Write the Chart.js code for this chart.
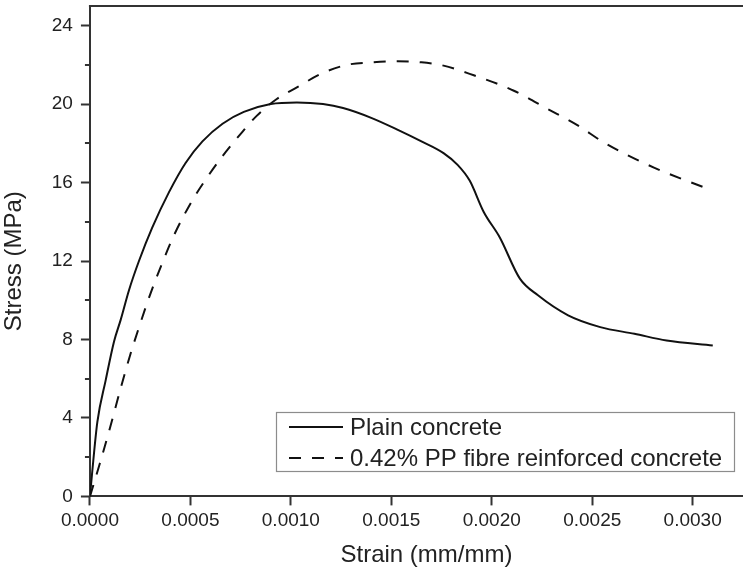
<!DOCTYPE html>
<html>
<head>
<meta charset="utf-8">
<title>Stress-strain curves</title>
<script src="https://cdn.jsdelivr.net/npm/chart.js@4.4.1/dist/chart.umd.min.js"></script>
<style>
    html, body {
        margin: 0;
        padding: 0;
        background: #ffffff;
        overflow: hidden;
    }
    #wrap {
        width: 764px;
        height: 571px;
    }
</style>
</head>
<body>
<div id="wrap"><canvas id="stressStrainChart" width="764" height="571"></canvas></div>
<script>
// strain in mm/mm, stress in MPa
const plainStrain = [
    0, 0.00001, 0.000037, 0.000078, 0.00012, 0.000153, 0.000194, 0.000244,
    0.00031, 0.000393, 0.000476, 0.00056, 0.00066, 0.000766, 0.0009, 0.00103,
    0.00116, 0.00126, 0.0014, 0.00153, 0.00165, 0.00176, 0.00183, 0.00189,
    0.00196, 0.00204, 0.00214, 0.00223, 0.00238, 0.00254, 0.00271,
    0.00287, 0.0031
];
const plainStress = [
    0, 1.1, 3.8, 5.9, 7.9, 9.0, 10.5, 12.0,
    13.7, 15.5, 17.0, 18.1, 19.0, 19.6, 20.0, 20.08,
    20.0, 19.8, 19.3, 18.7, 18.1, 17.5, 16.9, 16.1,
    14.5, 13.2, 11.1, 10.25, 9.23, 8.63, 8.29,
    7.95, 7.69
];

const fibreStrain = [
    0, 0.00005, 0.0001, 0.00015, 0.0002, 0.00025, 0.0003,
    0.00036, 0.00042, 0.00051, 0.000576, 0.00066, 0.00076, 0.00083, 0.00093,
    0.00103, 0.00115, 0.00128, 0.00141, 0.00153, 0.00165, 0.00176, 0.00189,
    0.00211, 0.00228, 0.00243, 0.00256, 0.00281, 0.00307
];
const fibreStress = [
    0, 1.7, 3.5, 5.4, 7.2, 8.8, 10.3,
    11.9, 13.35, 15.1, 16.15, 17.35, 18.6, 19.4, 20.26,
    20.85, 21.54, 22.0, 22.13, 22.18, 22.13, 21.96, 21.54,
    20.68, 19.74, 18.9, 18.03, 16.75, 15.7
];

const seriesLabels = ['Plain concrete', '0.42% PP fibre reinforced concrete'];
const yMinorTicks = [2, 6, 10, 14, 18, 22];

function toPoints(xs, ys) {
    return xs.map(function (x, i) {
        return { x: x, y: ys[i] };
    });
}

Chart.defaults.font.family = '"Liberation Sans", Arial, sans-serif';
Chart.defaults.color = '#222222';

const axisColor = '#333333';

// minor ticks on the y axis plus the top frame line
const framePlugin = {
    id: 'frame',
    afterDraw: function (chart) {
        const ctx = chart.ctx;
        const area = chart.chartArea;
        const yScale = chart.scales.y;
        ctx.save();
        ctx.strokeStyle = axisColor;
        ctx.lineWidth = 2;
        ctx.beginPath();
        ctx.moveTo(area.left - 1, area.top);
        ctx.lineTo(area.right, area.top);
        ctx.stroke();

        yMinorTicks.forEach(function (value) {
            const py = Math.round(yScale.getPixelForValue(value));
            ctx.beginPath();
            ctx.moveTo(area.left - 5, py);
            ctx.lineTo(area.left, py);
            ctx.stroke();
        });
        ctx.restore();
    }
};

// boxed legend in the lower right of the plot
const legendBoxPlugin = {
    id: 'legendBox',
    afterDraw: function (chart) {
        const ctx = chart.ctx;
        const box = { left: 276, top: 412, right: 734, bottom: 471 };
        const rows = [427, 458];
        ctx.save();
        ctx.fillStyle = '#ffffff';
        ctx.fillRect(box.left, box.top, box.right - box.left, box.bottom - box.top);
        ctx.strokeStyle = '#8c8c8c';
        ctx.lineWidth = 1.2;
        ctx.strokeRect(box.left + 0.5, box.top + 0.5, box.right - box.left, box.bottom - box.top);

        chart.data.datasets.forEach(function (dataset, i) {
            const y = rows[i];
            ctx.strokeStyle = dataset.borderColor;
            ctx.lineWidth = dataset.borderWidth;
            ctx.setLineDash(dataset.borderDash || []);
            ctx.beginPath();
            ctx.moveTo(289, y);
            ctx.lineTo(343, y);
            ctx.stroke();
            ctx.setLineDash([]);

            ctx.fillStyle = '#222222';
            ctx.font = '24px "Liberation Sans", Arial, sans-serif';
            ctx.textBaseline = 'middle';
            ctx.textAlign = 'left';
            ctx.fillText(dataset.label, 350, y + 1);
        });
        ctx.restore();
    }
};

new Chart(document.getElementById('stressStrainChart').getContext('2d'), {
    type: 'line',
    data: {
        datasets: [
            {
                label: seriesLabels[0],
                data: toPoints(plainStrain, plainStress),
                borderColor: '#111111',
                borderWidth: 2,
                pointRadius: 0,
                cubicInterpolationMode: 'monotone',
                fill: false
            },
            {
                label: seriesLabels[1],
                data: toPoints(fibreStrain, fibreStress),
                borderColor: '#111111',
                borderWidth: 2,
                borderDash: [12, 11],
                pointRadius: 0,
                cubicInterpolationMode: 'monotone',
                fill: false
            }
        ]
    },
    options: {
        responsive: false,
        animation: false,
        devicePixelRatio: 1,
        layout: {
            padding: { left: 0, top: 6, right: 1, bottom: 1 }
        },
        plugins: {
            legend: { display: false },
            tooltip: { enabled: false }
        },
        scales: {
            x: {
                type: 'linear',
                min: 0,
                max: 0.00335,
                border: { display: true, color: axisColor, width: 2 },
                grid: {
                    drawOnChartArea: false,
                    drawTicks: true,
                    tickLength: 9,
                    tickWidth: 2,
                    tickColor: axisColor
                },
                ticks: {
                    stepSize: 0.0005,
                    includeBounds: false,
                    padding: 4,
                    maxRotation: 0,
                    font: { size: 19 },
                    callback: function (value) {
                        return Number(value).toFixed(4);
                    }
                },
                title: {
                    display: true,
                    text: 'Strain (mm/mm)',
                    font: { size: 24 },
                    padding: { top: 5, bottom: 0 }
                }
            },
            y: {
                min: 0,
                max: 25,
                // the frame starts right at the top, so no room is kept for the top label
                afterFit: function (scale) {
                    scale.paddingTop = 0;
                },
                border: { display: true, color: axisColor, width: 2 },
                grid: {
                    drawOnChartArea: false,
                    drawTicks: true,
                    tickLength: 9,
                    tickWidth: 2,
                    tickColor: axisColor
                },
                ticks: {
                    stepSize: 4,
                    includeBounds: false,
                    padding: 8,
                    font: { size: 19 }
                },
                title: {
                    display: true,
                    text: 'Stress (MPa)   ',
                    font: { size: 24 },
                    padding: { top: 0, bottom: 15 }
                }
            }
        }
    },
    plugins: [framePlugin, legendBoxPlugin]
});
</script>
</body>
</html>
